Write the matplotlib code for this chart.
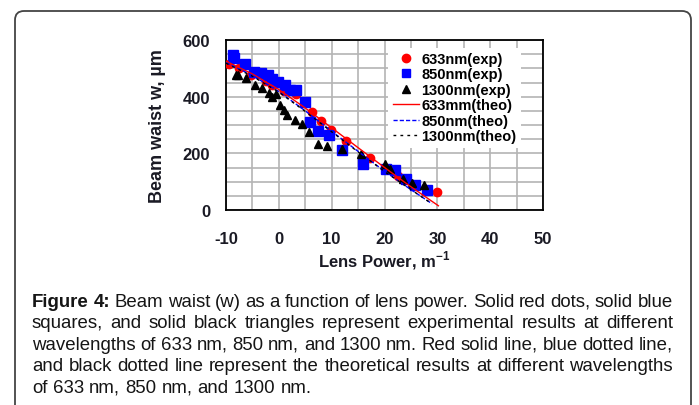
import matplotlib
matplotlib.use('Agg')
import matplotlib.pyplot as plt
from matplotlib.patches import FancyBboxPatch
from matplotlib.ticker import MultipleLocator
from matplotlib.lines import Line2D

plt.rcParams['font.family'] = ['Liberation Sans', 'DejaVu Sans']
plt.rcParams['mathtext.fontset'] = 'custom'
plt.rcParams['mathtext.rm'] = 'Liberation Sans'
plt.rcParams['mathtext.bf'] = 'Liberation Sans:bold'
plt.rcParams['axes.unicode_minus'] = False

# experimental points
x633 = [-9.5, -7.5, -5.2, -2.5, -1.3, 0.9, 3.2, 6.2, 8.0, 9.9, 12.8, 17.3, 22.6, 30.0]
w633 = [517, 502, 478, 455, 440, 420, 410, 346, 314, 283, 243, 185, 120, 65]

x850 = [-8.6, -8.4, -6.4, -4.7, -3.4, -2.1, -1.3, -0.1, 1.2, 2.1, 3.3, 5.0, 5.9, 7.5,
        9.5, 12.0, 16.0, 20.3, 21.9, 24.0, 25.7, 28.0]
w850 = [547, 535, 515, 488, 484, 476, 461, 452, 440, 425, 423, 382, 311, 278,
        266, 212, 162, 145, 140, 110, 88, 72]

x1300 = [-8.2, -7.8, -6.3, -4.5, -3.2, -1.9, -1.3, -0.5, 0.3, 0.9, 1.5, 3.0, 4.4, 5.8,
         7.4, 9.2, 11.9, 15.6, 20.0, 21.1, 23.5, 25.2, 27.4]
w1300 = [476, 478, 467, 440, 430, 412, 400, 410, 370, 352, 337, 318, 305, 275,
         234, 226, 216, 196, 163, 143, 110, 95, 89]

# theoretical curves
xt633 = [-10, -5, 0, 5, 10, 15, 20, 25, 30.2]
wt633 = [525, 480, 425, 360, 290, 220, 150, 82, 15]
xt850 = [-10, -5, 0, 5, 10, 15, 20, 25, 29]
wt850 = [520, 475, 418, 350, 278, 207, 137, 72, 22]
xt1300 = [-10, -5, 0, 5, 10, 15, 20, 25, 28.5]
wt1300 = [518, 472, 416, 348, 276, 205, 136, 72, 28]

leg_labels = ['633nm(exp)', '850nm(exp)', '1300nm(exp)',
              '633mm(theo)', '850nm(theo)', '1300nm(theo)']

caption = [
    'Figure 4: Beam waist (w) as a function of lens power. Solid red dots, solid blue',
    'squares, and solid black triangles represent experimental results at different',
    'wavelengths of 633 nm, 850 nm, and 1300 nm. Red solid line, blue dotted line,',
    'and black dotted line represent the theoretical results at different wavelengths',
    'of 633 nm, 850 nm, and 1300 nm.',
]

fig = plt.figure(figsize=(6.99, 4.06), dpi=100)

# background layer in pixel units for the frame and caption
bg = fig.add_axes([0, 0, 1, 1], zorder=0)
bg.set_xlim(0, 699)
bg.set_ylim(406, 0)
bg.axis('off')
bg.add_patch(FancyBboxPatch((15, 12), 676, 430, boxstyle='round,pad=0,rounding_size=9',
                            fc='white', ec='#444444', lw=1.3))

ax = fig.add_axes([226/699, 195/406, 317/699, 170/406], zorder=1)
ax.plot(x633, w633, 'o', color='#ff0000', ms=6, zorder=3)
ax.plot(x850, w850, 's', color='#0000ff', ms=6.5, zorder=3)
ax.plot(x1300, w1300, '^', color='black', ms=6, zorder=3)
ax.plot(xt633, wt633, '-', color='#ff0000', lw=1, zorder=4)
ax.plot(xt850, wt850, '--', color='#0000ff', lw=1, dashes=(3, 1.5), zorder=4)
ax.plot(xt1300, wt1300, color='black', lw=1, dashes=(2, 3), zorder=4)

ax.set_xlim(-10, 50)
ax.set_ylim(0, 600)
ax.xaxis.set_major_locator(MultipleLocator(10))
ax.yaxis.set_major_locator(MultipleLocator(200))
ax.xaxis.set_minor_locator(MultipleLocator(5))
ax.yaxis.set_minor_locator(MultipleLocator(50))
ax.grid(True, which='both', color='#b4b4b4', lw=1.2, zorder=0)
ax.set_axisbelow(True)
ax.tick_params(which='both', length=0)
ax.tick_params(axis='x', pad=15)
ax.tick_params(axis='y', pad=11.5)
for lab in ax.get_xticklabels() + ax.get_yticklabels():
    lab.set_fontsize(12)
    lab.set_fontweight('bold')
    lab.set_color('#1a1a24')
for s in ax.spines.values():
    s.set_linewidth(1.3)
    s.set_color('black')

ax.set_xlabel(r'Lens Power, m$^{\mathbf{-1}}$', fontsize=12, fontweight='bold', color='#1a1a24')
ax.set_ylabel('Beam waist w, µm', fontsize=13, fontweight='bold', color='#1a1a24')
ax.xaxis.set_label_coords(0.5, -0.225)
ax.yaxis.set_label_coords(-0.188, 0.5)

handles = [
    Line2D([], [], ls='none', marker='o', color='#ff0000', ms=6),
    Line2D([], [], ls='none', marker='s', color='#0000ff', ms=6),
    Line2D([], [], ls='none', marker='^', color='black', ms=6),
    Line2D([], [], color='#ff0000', lw=1),
    Line2D([], [], color='#0000ff', lw=1, dashes=(3, 1.5)),
    Line2D([], [], color='black', lw=1, dashes=(2, 3)),
]
ax.legend(handles, leg_labels, loc='upper right', bbox_to_anchor=(0.93, 0.955),
          frameon=True, fancybox=False, edgecolor='none', framealpha=1,
          prop={'weight': 'bold', 'size': 10.5}, handlelength=1.8, handletextpad=0.15,
          labelspacing=0.1, borderpad=0.3, borderaxespad=0)

# caption, justified like the source page
renderer = fig.canvas.get_renderer()
cap_fs = 13.4
x0, x1 = 32, 673
baselines = [307, 328.5, 350, 371.5, 393]
for i, line in enumerate(caption):
    words = line.split(' ')
    nbold = 2 if i == 0 else 0
    arts = []
    for j, w in enumerate(words):
        t = bg.text(0, baselines[i], w, fontsize=cap_fs, ha='left', va='baseline',
                    fontweight='bold' if j < nbold else 'normal', color='#151515')
        arts.append(t)
    widths = [t.get_window_extent(renderer).width for t in arts]
    if i < len(caption) - 1:
        gap = (x1 - x0 - sum(widths)) / (len(words) - 1)
    else:
        gap = 0.278 * cap_fs * 100 / 72
    x = x0
    for t, wd in zip(arts, widths):
        t.set_x(x)
        x += wd + gap

plt.savefig('out.png', dpi=100)
